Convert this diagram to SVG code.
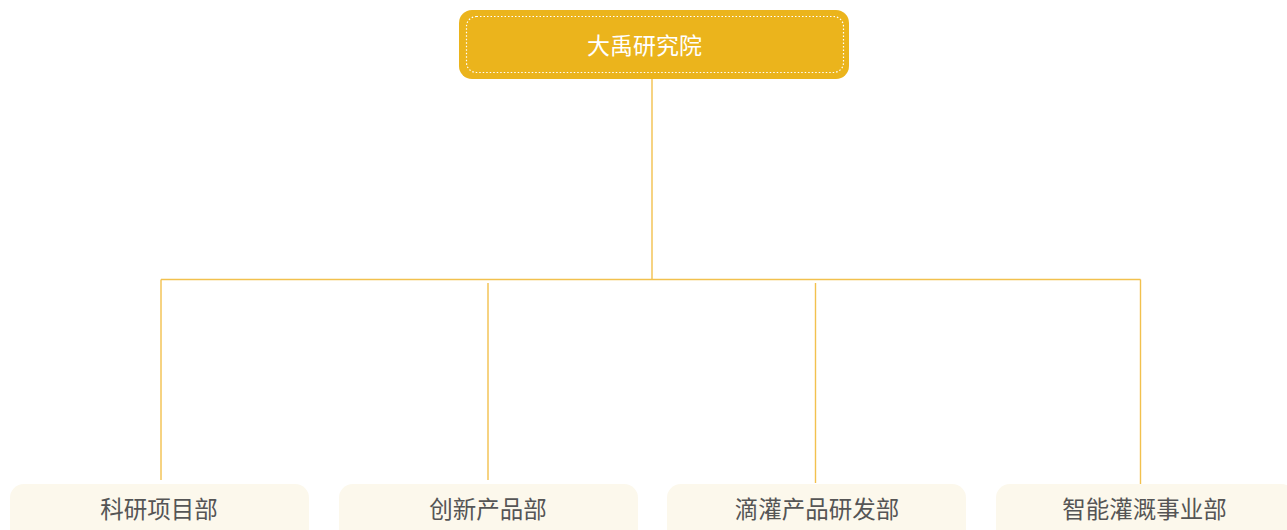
<svg xmlns="http://www.w3.org/2000/svg" width="1287" height="530" viewBox="0 0 1287 530">
<style>
.lnk{stroke:#F2C14E;stroke-width:1.4;fill:none}
.sub rect{fill:#FCF8EC}
.sub text{font-family:"Noto Sans CJK SC","Noto Sans",sans-serif;font-size:23.5px;fill:#555555;text-anchor:middle}
.root text{font-family:"Noto Sans CJK SC","Noto Sans",sans-serif;font-size:23px;fill:#FFFFFF;text-anchor:middle}
</style>
<rect x="0" y="0" width="1287" height="530" fill="#FFFFFF"/>
<g id="connectors">
<path class="lnk" d="M652 79V279.5M161 279.5H1140.5M161 279.5V480M1140.5 279.5V484M488 283V480M815.5 283V483"/>
</g>
<g id="root" class="root">
<rect x="459" y="10" width="390" height="69" rx="13" fill="#EBB41C"/>
<rect x="466.5" y="16.5" width="377" height="56" rx="10" fill="none" stroke="#FFFFFF" stroke-width="1.2" stroke-dasharray="1.5 2"/>
<text x="644.5" y="53.5">大禹研究院</text>
</g>
<g id="n1" class="sub">
<rect x="10" y="484" width="299" height="60" rx="14"/>
<text x="159" y="517.5">科研项目部</text>
</g>
<g id="n2" class="sub">
<rect x="339" y="484" width="299" height="60" rx="14"/>
<text x="488" y="517.5">创新产品部</text>
</g>
<g id="n3" class="sub">
<rect x="667" y="484" width="299" height="60" rx="14"/>
<text x="817" y="517.5">滴灌产品研发部</text>
</g>
<g id="n4" class="sub">
<rect x="996" y="484" width="299" height="60" rx="14"/>
<text x="1144.5" y="517.5">智能灌溉事业部</text>
</g>
</svg>
